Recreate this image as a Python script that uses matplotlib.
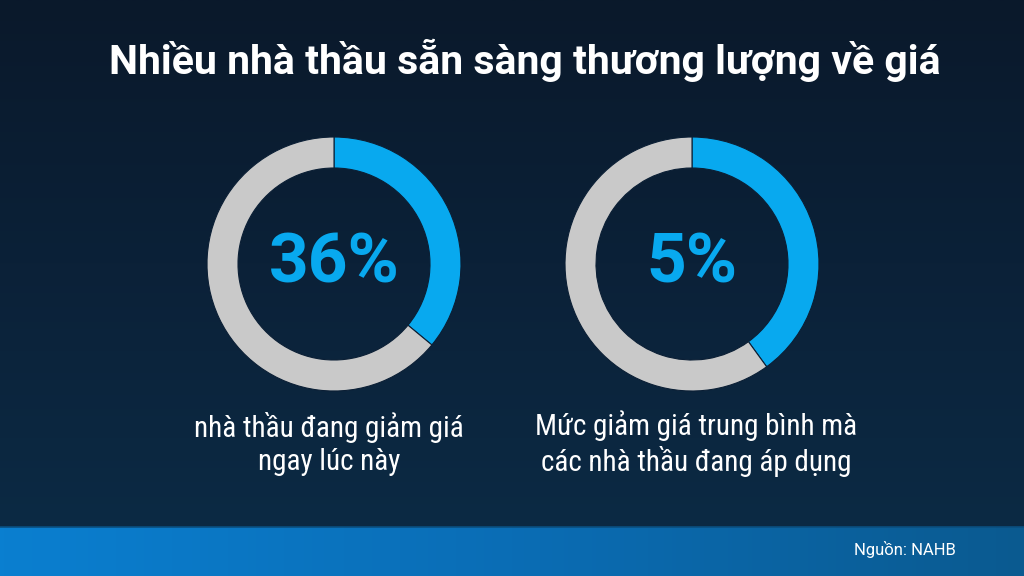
import numpy as np
import matplotlib
matplotlib.use("Agg")
import matplotlib.pyplot as plt
from matplotlib import font_manager as fm
from matplotlib.colors import LinearSegmentedColormap

# ---- data ----
title = "Nhiều nhà thầu sẵn sàng thương lượng về giá"
center_labels = ["36%", "5%"]
arc_shares = [36, 40]          # share of ring drawn in blue
captions = ["nhà thầu đang giảm giá\nngay lúc này",
            "Mức giảm giá trung bình mà\ncác nhà thầu đang áp dụng"]
source = "Nguồn: NAHB"

BLUE = "#08a9ef"
GRAY = "#c9c9c9"

names = {f.name for f in fm.fontManager.ttflist}
cond = "Roboto Condensed" if "Roboto Condensed" in names else "Roboto"

W, H = 1024, 576
fig = plt.figure(figsize=(W / 100, H / 100), dpi=100)
ax = fig.add_axes([0, 0, 1, 1])
ax.set_xlim(0, W)
ax.set_ylim(0, H)
ax.set_aspect("equal")
ax.axis("off")

# background vertical gradient (darker at top, bluer lower down)
bg = LinearSegmentedColormap.from_list("bg", ["#0a192b", "#0b2138", "#0c2a44"])
grad = np.linspace(0, 1, 256).reshape(-1, 1)
ax.imshow(grad, extent=[0, W, 49, H], cmap=bg, aspect="auto", zorder=0)
# bottom band horizontal gradient
band = LinearSegmentedColormap.from_list("band", ["#0a7fd0", "#0a6db5", "#0a5a90"])
ax.imshow(np.linspace(0, 1, 256).reshape(1, -1), extent=[0, W, 0, 49],
          cmap=band, aspect="auto", zorder=0)
ax.plot([0, W], [49, 49], color="#0a4f80", lw=1.2, zorder=1)

centers_x = [334, 692]
caption_dx = [-5, 4]
cy = H - 264
R = 127
ring = 31
for i, (share, lab, cap) in enumerate(zip(arc_shares, center_labels, captions)):
    ax.pie([share, 100 - share], colors=[BLUE, GRAY], startangle=90,
           counterclock=False, center=(centers_x[i], cy), radius=R,
           wedgeprops=dict(width=ring, edgecolor="#0b1f35", linewidth=0.8),
           frame=True)
    ax.text(centers_x[i], cy, lab, ha="center", va="center",
            fontsize=50, fontweight="bold", color=BLUE, family="Roboto")
    ax.text(centers_x[i] + caption_dx[i], H - 444, cap, ha="center", va="center",
            fontsize=21, color="white", family=cond, linespacing=1.2)

ax.set_xlim(0, W)
ax.set_ylim(0, H)
ax.axis("off")

ax.text(525, H - 60, title, ha="center", va="center", fontsize=29.5,
        fontweight="bold", color="white", family="Roboto")
ax.text(905, H - 549, source, ha="center", va="center", fontsize=12,
        color="white", family="Roboto")

fig.savefig("out.png", dpi=100, facecolor="#0a192b")
